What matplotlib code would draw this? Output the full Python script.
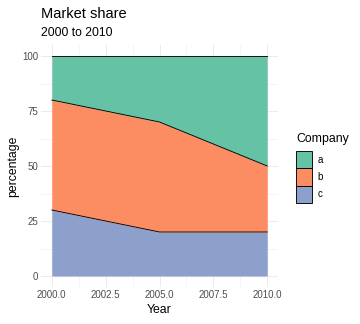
import numpy as np
import matplotlib
matplotlib.use("Agg")
import matplotlib.pyplot as plt
from matplotlib.patches import Patch

years = [2000, 2005, 2010]
companies = ["a", "b", "c"]
share_a = [20, 30, 50]
share_b = [50, 50, 30]
share_c = [30, 20, 20]
colors = {"a": "#66C2A5", "b": "#FC8D62", "c": "#8DA0CB"}

plt.rcParams["font.family"] = ["Liberation Sans", "DejaVu Sans"]

W, H = 360, 324
fig = plt.figure(figsize=(W / 72, H / 72), dpi=72)
ax = fig.add_axes([41 / W, 1 - 287 / H, (278 - 41) / W, (287 - 45) / H])

# stack from bottom: c, b, a
x = np.array(years, dtype=float)
base = np.zeros(len(x))
for name, vals in [("c", share_c), ("b", share_b), ("a", share_a)]:
    top = base + np.array(vals)
    ax.fill_between(x, base, top, color=colors[name], linewidth=0, zorder=2)
    ax.plot(x, top, color="black", linewidth=0.9, zorder=3)
    base = top

ax.set_xlim(1999.5, 2010.5)
ax.set_ylim(-5, 105)
ax.set_xticks([2000, 2002.5, 2005, 2007.5, 2010])
ax.set_xticklabels(["2000.0", "2002.5", "2005.0", "2007.5", "2010.0"])
ax.set_xticks([2001.25, 2003.75, 2006.25, 2008.75], minor=True)
ax.set_yticks([0, 25, 50, 75, 100])
ax.set_yticks([12.5, 37.5, 62.5, 87.5], minor=True)
ax.grid(True, which="major", color="#EBEBEB", linewidth=1.0, zorder=0)
ax.grid(True, which="minor", color="#EBEBEB", linewidth=0.5, zorder=0)
ax.set_axisbelow(True)
for s in ax.spines.values():
    s.set_visible(False)
ax.tick_params(which="both", length=0, labelsize=9.8, colors="#4D4D4D", pad=3)

ax.set_xlabel("Year", fontsize=12.3, labelpad=4)
ax.set_ylabel("percentage", fontsize=12.3, labelpad=3)

fig.text(41 / W, 1 - 18 / H, "Market share", fontsize=14.6, ha="left", va="baseline")
fig.text(41 / W, 1 - 36 / H, "2000 to 2010", fontsize=12.2, ha="left", va="baseline")

handles = [Patch(facecolor=colors[c], edgecolor="black", linewidth=0.9, label=c) for c in companies]
leg = fig.legend(handles=handles, title="Company", loc="upper left",
                 bbox_to_anchor=(296 / W, 1 - 133 / H), frameon=False,
                 fontsize=9.8, title_fontsize=12.3, handlelength=1.63, handleheight=2.34,
                 handletextpad=0.55, labelspacing=0.0, borderaxespad=0, borderpad=0)
leg._legend_box.align = "left"
leg._legend_box.sep = 6

fig.savefig("out.png", dpi=72)
